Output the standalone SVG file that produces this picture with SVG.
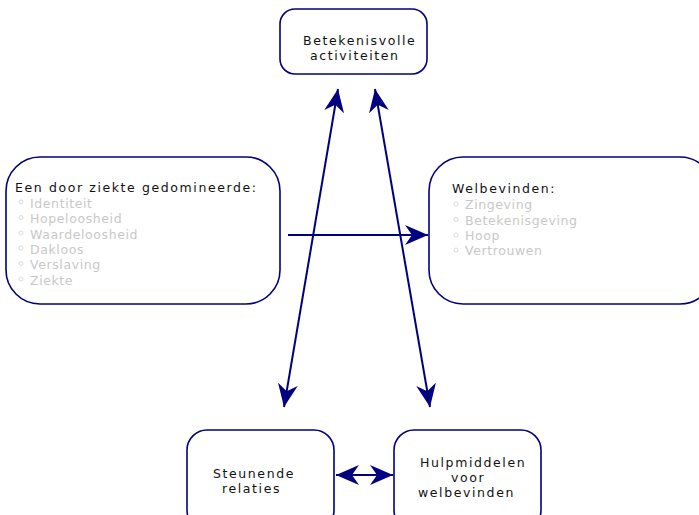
<svg xmlns="http://www.w3.org/2000/svg" width="699" height="515" viewBox="0 0 699 515">
<defs>
<style>
.box{fill:#fff;stroke:#000080;stroke-width:1.6}
.t{font-family:"DejaVu Sans",sans-serif;font-size:12.5px;fill:#111;letter-spacing:1.6px}
.it{font-family:"DejaVu Sans",sans-serif;font-size:12.5px;fill:#c8c8c8;letter-spacing:0.6px}
.bul{fill:none;stroke:#dcdcdc;stroke-width:1}
.ln{stroke:#000080;stroke-width:2;fill:none}
</style>
<marker id="ah" viewBox="-23 -10 24 20" refX="0" refY="0" markerWidth="24" markerHeight="20" markerUnits="userSpaceOnUse" orient="auto-start-reverse">
<path d="M0,0 L-23,-10 L-16,0 L-23,10 Z" fill="#000080"/>
</marker>
</defs>
<rect width="699" height="515" fill="#fff"/>
<g id="connectors">
<line class="ln" x1="288" y1="235" x2="428" y2="235" marker-end="url(#ah)"/>
<line class="ln" x1="338" y1="89" x2="284" y2="407" marker-start="url(#ah)" marker-end="url(#ah)"/>
<line class="ln" x1="375" y1="89" x2="430" y2="407" marker-start="url(#ah)" marker-end="url(#ah)"/>
<line class="ln" x1="336" y1="475" x2="393" y2="475" marker-start="url(#ah)" marker-end="url(#ah)"/>
</g>
<g id="node-activiteiten">
<rect class="box" x="280" y="9" width="147" height="65" rx="15"/>
<text class="t" x="303" y="45">Betekenisvolle</text>
<text class="t" x="310" y="60">activiteiten</text>
</g>
<g id="node-ziekte">
<rect class="box" x="6" y="157" width="274" height="147" rx="34"/>
<text class="t" x="15" y="192">Een door ziekte gedomineerde:</text>
<circle class="bul" cx="21" cy="202" r="2"/>
<text class="it" x="30" y="207.5">Identiteit</text>
<circle class="bul" cx="21" cy="217.5" r="2"/>
<text class="it" x="30" y="223">Hopeloosheid</text>
<circle class="bul" cx="21" cy="233" r="2"/>
<text class="it" x="30" y="238.5">Waardeloosheid</text>
<circle class="bul" cx="21" cy="248" r="2"/>
<text class="it" x="30" y="253.5">Dakloos</text>
<circle class="bul" cx="21" cy="263.5" r="2"/>
<text class="it" x="30" y="269">Verslaving</text>
<circle class="bul" cx="21" cy="279" r="2"/>
<text class="it" x="30" y="284.5">Ziekte</text>
</g>
<g id="node-welbevinden">
<rect class="box" x="429" y="157" width="285" height="147" rx="34"/>
<text class="t" x="452" y="193">Welbevinden:</text>
<circle class="bul" cx="456" cy="204" r="2"/>
<text class="it" x="465" y="209">Zingeving</text>
<circle class="bul" cx="456" cy="219.5" r="2"/>
<text class="it" x="465" y="224.5">Betekenisgeving</text>
<circle class="bul" cx="456" cy="235" r="2"/>
<text class="it" x="465" y="240">Hoop</text>
<circle class="bul" cx="456" cy="250" r="2"/>
<text class="it" x="465" y="255">Vertrouwen</text>
</g>
<g id="node-relaties">
<rect class="box" x="187" y="430" width="147" height="100" rx="20"/>
<text class="t" x="213" y="478">Steunende</text>
<text class="t" x="222" y="493">relaties</text>
</g>
<g id="node-hulpmiddelen">
<rect class="box" x="394" y="430" width="147" height="100" rx="20"/>
<text class="t" x="420" y="467">Hulpmiddelen</text>
<text class="t" x="451" y="482">voor</text>
<text class="t" x="418" y="497">welbevinden</text>
</g>
</svg>
